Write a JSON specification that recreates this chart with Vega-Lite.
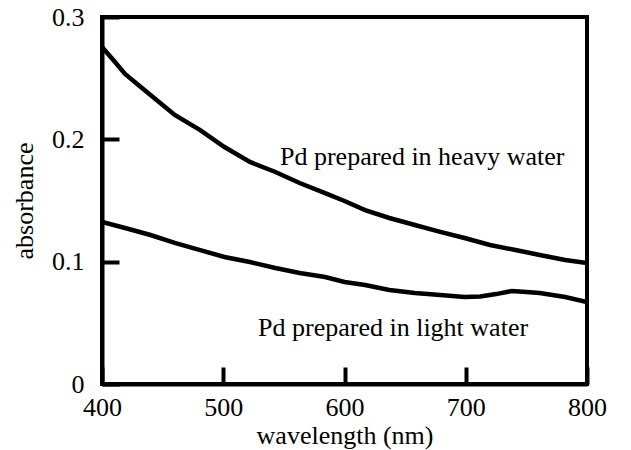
{
  "$schema": "https://vega.github.io/schema/vega-lite/v6.json",
  "width": 485,
  "height": 367,
  "autosize": "none",
  "padding": {"left": 102, "top": 17, "right": 44, "bottom": 66},
  "background": "white",
  "config": {
    "font": "Liberation Serif",
    "view": {"stroke": "black", "strokeWidth": 4},
    "axis": {
      "grid": false,
      "domainColor": "black",
      "domainWidth": 4,
      "tickColor": "black",
      "tickWidth": 4,
      "tickSize": -17,
      "labelFlush": false,
      "labelFont": "Liberation Serif",
      "labelFontSize": 26,
      "labelColor": "black",
      "titleFont": "Liberation Serif",
      "titleFontSize": 26,
      "titleFontWeight": "normal",
      "titleColor": "black"
    }
  },
  "datasets": {
    "curves": [
      {"wl": 400, "abs": 0.2755, "sample": "heavy"},
      {"wl": 410, "abs": 0.2640, "sample": "heavy"},
      {"wl": 419, "abs": 0.2534, "sample": "heavy"},
      {"wl": 430, "abs": 0.2445, "sample": "heavy"},
      {"wl": 440, "abs": 0.2363, "sample": "heavy"},
      {"wl": 460, "abs": 0.2199, "sample": "heavy"},
      {"wl": 481, "abs": 0.2076, "sample": "heavy"},
      {"wl": 501, "abs": 0.1937, "sample": "heavy"},
      {"wl": 522, "abs": 0.1815, "sample": "heavy"},
      {"wl": 543, "abs": 0.1733, "sample": "heavy"},
      {"wl": 563, "abs": 0.1643, "sample": "heavy"},
      {"wl": 584, "abs": 0.1561, "sample": "heavy"},
      {"wl": 600, "abs": 0.1496, "sample": "heavy"},
      {"wl": 617, "abs": 0.1422, "sample": "heavy"},
      {"wl": 637, "abs": 0.1357, "sample": "heavy"},
      {"wl": 658, "abs": 0.1300, "sample": "heavy"},
      {"wl": 679, "abs": 0.1243, "sample": "heavy"},
      {"wl": 699, "abs": 0.1193, "sample": "heavy"},
      {"wl": 720, "abs": 0.1136, "sample": "heavy"},
      {"wl": 741, "abs": 0.1095, "sample": "heavy"},
      {"wl": 761, "abs": 0.1055, "sample": "heavy"},
      {"wl": 782, "abs": 0.1014, "sample": "heavy"},
      {"wl": 800, "abs": 0.0989, "sample": "heavy"},
      {"wl": 400, "abs": 0.1324, "sample": "light"},
      {"wl": 419, "abs": 0.1275, "sample": "light"},
      {"wl": 440, "abs": 0.1218, "sample": "light"},
      {"wl": 460, "abs": 0.1153, "sample": "light"},
      {"wl": 481, "abs": 0.1095, "sample": "light"},
      {"wl": 501, "abs": 0.1038, "sample": "light"},
      {"wl": 522, "abs": 0.0997, "sample": "light"},
      {"wl": 543, "abs": 0.0948, "sample": "light"},
      {"wl": 563, "abs": 0.0907, "sample": "light"},
      {"wl": 584, "abs": 0.0875, "sample": "light"},
      {"wl": 600, "abs": 0.0834, "sample": "light"},
      {"wl": 617, "abs": 0.0809, "sample": "light"},
      {"wl": 637, "abs": 0.0768, "sample": "light"},
      {"wl": 658, "abs": 0.0744, "sample": "light"},
      {"wl": 679, "abs": 0.0728, "sample": "light"},
      {"wl": 699, "abs": 0.0711, "sample": "light"},
      {"wl": 712, "abs": 0.0715, "sample": "light"},
      {"wl": 725, "abs": 0.0735, "sample": "light"},
      {"wl": 738, "abs": 0.0760, "sample": "light"},
      {"wl": 750, "abs": 0.0752, "sample": "light"},
      {"wl": 761, "abs": 0.0744, "sample": "light"},
      {"wl": 782, "abs": 0.0711, "sample": "light"},
      {"wl": 800, "abs": 0.0670, "sample": "light"}
    ],
    "labels": [
      {"wl": 546.8, "abs": 0.179, "text": "Pd prepared in heavy water"},
      {"wl": 528.7, "abs": 0.0392, "text": "Pd prepared in light water"}
    ]
  },
  "layer": [
    {
      "data": {"name": "curves"},
      "mark": {"type": "line", "color": "black", "strokeWidth": 4.5, "clip": true},
      "encoding": {
        "x": {
          "field": "wl", "type": "quantitative",
          "scale": {"domain": [400, 800], "nice": false},
          "axis": {"values": [400, 500, 600, 700, 800], "labelFlush": false, "labelPadding": 27, "title": "wavelength (nm)", "titlePadding": 2}
        },
        "y": {
          "field": "abs", "type": "quantitative",
          "scale": {"domain": [0, 0.3], "nice": false},
          "axis": {"values": [0, 0.1, 0.2, 0.3], "labelFlush": false, "format": ".1~f", "labelPadding": 35, "title": "absorbance", "titlePadding": 14}
        },
        "detail": {"field": "sample"}
      }
    },
    {
      "data": {"name": "labels"},
      "mark": {"type": "text", "align": "left", "baseline": "alphabetic", "fontSize": 26, "font": "Liberation Serif", "color": "black"},
      "encoding": {
        "x": {"field": "wl", "type": "quantitative"},
        "y": {"field": "abs", "type": "quantitative"},
        "text": {"field": "text"}
      }
    }
  ]
}
